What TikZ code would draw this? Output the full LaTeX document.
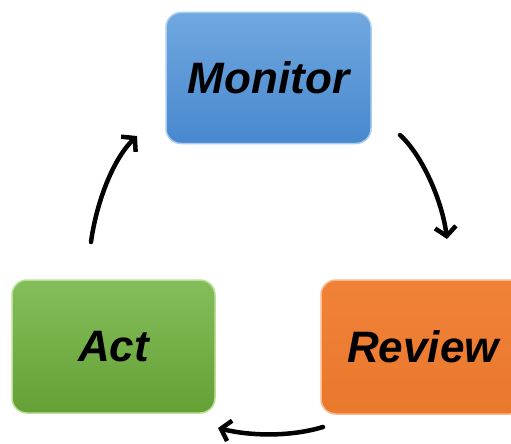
\documentclass[tikz,border=0pt]{standalone}
\usepackage{fontspec}
\setmainfont{Liberation Sans}
\usetikzlibrary{arrows.meta}
\definecolor{bluetop}{RGB}{112,168,224}
\definecolor{bluebot}{RGB}{72,136,206}
\definecolor{blueedge}{RGB}{170,205,240}
\definecolor{greentop}{RGB}{132,190,92}
\definecolor{greenbot}{RGB}{100,160,52}
\definecolor{greenedge}{RGB}{185,225,150}
\definecolor{orangetop}{RGB}{240,130,55}
\definecolor{orangebot}{RGB}{234,120,45}
\definecolor{orangeedge}{RGB}{250,185,140}
\tikzset{
  stagebox/.style={rounded corners=15pt, line width=1.5pt, font=\fontsize{44}{48}\selectfont\bfseries\itshape, text=black},
  cyclearrow/.style={line width=4.5pt, line cap=round, -{Straight Barb[length=9pt,width=21pt,line width=4.5pt]}}
}
\begin{document}
\begin{tikzpicture}[x=1pt,y=-1pt]
\useasboundingbox (0,0) rectangle (511,444);
\node[stagebox, draw=blueedge, top color=bluetop, bottom color=bluebot, minimum width=205pt, minimum height=131pt] (monitor) at (268.5,78) {Monitor};
\node[stagebox, draw=greenedge, top color=greentop, bottom color=greenbot, minimum width=203pt, minimum height=133pt] (act) at (113.5,346.5) {Act};
\node[stagebox, draw=orangeedge, top color=orangetop, bottom color=orangebot, minimum width=204pt, minimum height=134pt] (review) at (423,347) {Review};
\coordinate (a1s) at (91,242);
\coordinate (a1e) at (137,136);
\coordinate (a2s) at (400,135);
\coordinate (a2e) at (447,239);
\coordinate (a3s) at (323,427);
\coordinate (a3e) at (218,428);
\draw[cyclearrow] (a1s) .. controls (96,205) and (112,160) .. (a1e);
\draw[cyclearrow] (a2s) .. controls (422,155) and (442,200) .. (a2e);
\draw[cyclearrow] (a3s) .. controls (290,437) and (250,436) .. (a3e);
\end{tikzpicture}
\end{document}
